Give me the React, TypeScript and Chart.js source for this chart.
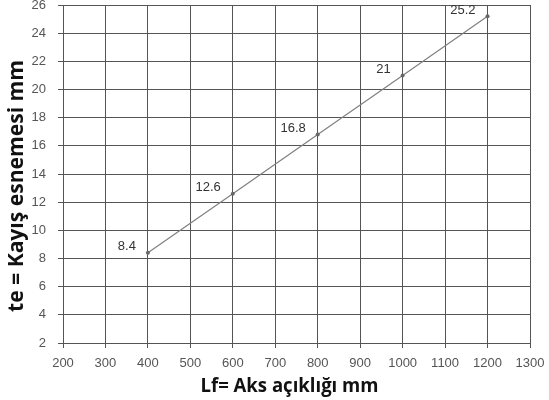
import React, { useEffect, useRef } from "react";
import { Chart, registerables } from "chart.js";

Chart.register(...registerables);

const spans = [400, 600, 800, 1000, 1200];
const deflections = [8.4, 12.6, 16.8, 21, 25.2];
const pointLabels = ["8.4", "12.6", "16.8", "21", "25.2"];
const xTitle = "Lf= Aks açıklığı mm";
const yTitle = "te = Kayış esnemesi mm";

const TICK_FONT = "'Liberation Sans', Arial, sans-serif";
const TITLE_FONT = "'Open Sans', sans-serif";

const labelPlugin = {
  id: "pointLabels",
  afterDatasetsDraw(chart: any) {
    const meta = chart.getDatasetMeta(0);
    const ctx = chart.ctx;
    ctx.save();
    ctx.font = `13px ${TICK_FONT}`;
    ctx.fillStyle = "#333";
    ctx.textAlign = "right";
    ctx.textBaseline = "middle";
    meta.data.forEach((pt: any, i: number) => {
      ctx.fillText(pointLabels[i], pt.x - 12, pt.y - 6);
    });
    ctx.restore();
  },
};

const titlePlugin = {
  id: "axisTitles",
  afterDraw(chart: any) {
    const ctx = chart.ctx;
    const area = chart.chartArea;
    ctx.save();
    ctx.fillStyle = "#111";
    ctx.textAlign = "center";
    ctx.textBaseline = "alphabetic";
    ctx.font = `bold 20px ${TITLE_FONT}`;
    let w = ctx.measureText(xTitle).width;
    let s = 178 / w;
    ctx.save();
    ctx.translate((area.left + area.right) / 2 - 7, area.bottom + 49);
    ctx.scale(s, 1);
    ctx.fillText(xTitle, 0, 0);
    ctx.restore();
    ctx.font = `bold 22px ${TITLE_FONT}`;
    w = ctx.measureText(yTitle).width;
    s = 252 / w;
    ctx.save();
    ctx.translate(area.left - 40, (area.top + area.bottom) / 2 + 12);
    ctx.rotate(-Math.PI / 2);
    ctx.scale(s, 1);
    ctx.fillText(yTitle, 0, 0);
    ctx.restore();
    ctx.restore();
  },
};

export default function App() {
  const ref = useRef<HTMLCanvasElement>(null);
  useEffect(() => {
    document.body.style.margin = "0";
    const chart = new Chart(ref.current!, {
      type: "line",
      data: {
        datasets: [
          {
            data: spans.map((x, i) => ({ x, y: deflections[i] })),
            borderColor: "#808080",
            borderWidth: 1.2,
            pointRadius: 2,
            pointBackgroundColor: "#666",
            pointBorderColor: "#666",
            pointBorderWidth: 0,
            tension: 0,
          },
        ],
      },
      options: {
        animation: false,
        responsive: false,
        layout: { autoPadding: false, padding: { top: 5, right: 19, left: 0, bottom: 0 } },
        plugins: { legend: { display: false }, tooltip: { enabled: false } },
        scales: {
          x: {
            type: "linear",
            min: 200,
            max: 1300,
            ticks: {
              stepSize: 100,
              color: "#555",
              font: { family: TICK_FONT, size: 13 },
              padding: 8,
              maxRotation: 0,
              autoSkip: false,
              callback: (v: any) => String(v),
            },
            grid: { color: "#555", lineWidth: 1, tickLength: 5 },
            border: { color: "#555" },
            title: { display: false, text: xTitle },
            afterFit(scale: any) {
              scale.height = 57;
              scale.paddingLeft = 0;
              scale.paddingRight = 0;
              scale.paddingTop = 0;
              scale.paddingBottom = 0;
            },
          },
          y: {
            type: "linear",
            min: 2,
            max: 26,
            ticks: {
              stepSize: 2,
              color: "#555",
              font: { family: TICK_FONT, size: 13 },
              padding: 12,
              autoSkip: false,
              callback: (v: any) => String(v),
            },
            grid: { color: "#555", lineWidth: 1, tickLength: 5 },
            border: { color: "#555" },
            title: { display: false, text: yTitle },
            afterFit(scale: any) {
              scale.width = 63;
              scale.paddingLeft = 0;
              scale.paddingRight = 0;
              scale.paddingTop = 0;
              scale.paddingBottom = 0;
            },
          },
        },
      },
      plugins: [labelPlugin, titlePlugin],
    });
    return () => chart.destroy();
  }, []);
  return (
    <div style={{ position: "absolute", left: 0, top: 0, width: 549, height: 400, background: "#fff" }}>
      <canvas ref={ref} width={549} height={400} />
    </div>
  );
}
